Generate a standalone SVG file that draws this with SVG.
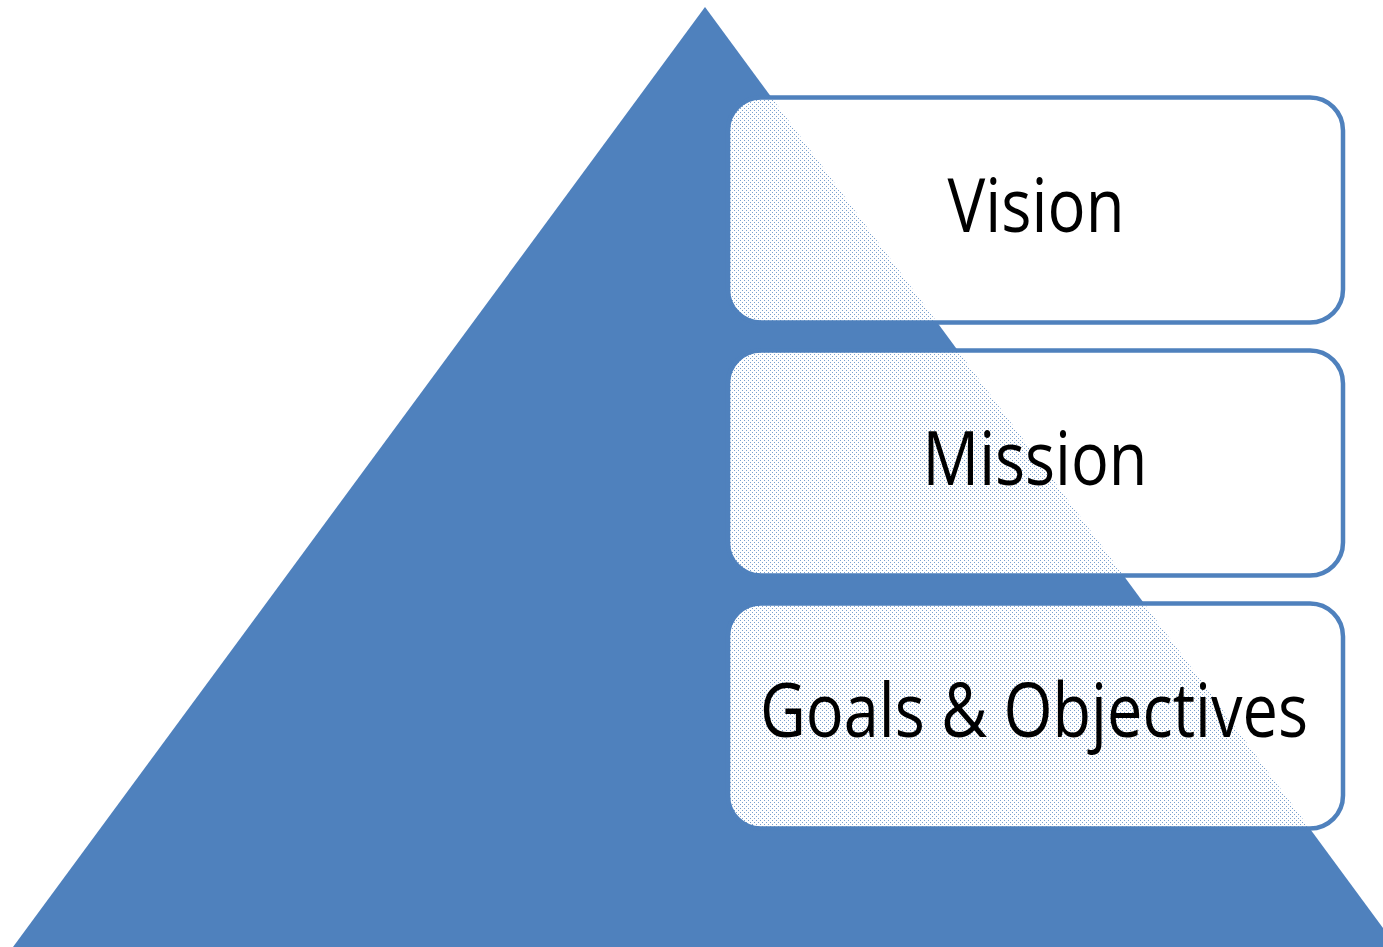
<svg xmlns="http://www.w3.org/2000/svg" width="1383" height="947" viewBox="0 0 1383 947">
  <style>
    .box { fill: #ffffff; }
    .dots { fill: url(#dotPat); }
    .edge { fill: none; stroke: #4f81bd; stroke-width: 4.5; }
    .label { font-family: "Open Sans", "Liberation Sans", sans-serif; font-size: 75px; fill: #000000; text-anchor: middle; }
  </style>
  <defs>
    <pattern id="dotPat" x="0" y="0" width="4" height="4" patternUnits="userSpaceOnUse">
      <rect x="0" y="0" width="1" height="1" fill="#4f81bd" opacity="0.75"/>
      <rect x="2" y="2" width="1" height="1" fill="#4f81bd" opacity="0.75"/>
    </pattern>
    <clipPath id="triClip">
      <polygon points="705,7 13,947 1397,947"/>
    </clipPath>
  </defs>
  <rect width="1383" height="947" fill="#ffffff"/>
  <g id="pyramid">
    <polygon points="705,7 13,947 1397,947" fill="#4f81bd"/>
  </g>
  <g id="connectors"></g>
  <g id="vision">
    <rect class="box" x="728" y="97.5" width="615" height="225" rx="33"/>
    <rect class="dots" x="728" y="97.5" width="615" height="225" rx="33" clip-path="url(#triClip)"/>
    <rect class="edge" x="728" y="97.5" width="615" height="225" rx="33"/>
    <text class="label" x="1036" y="232" textLength="177" lengthAdjust="spacingAndGlyphs">Vision</text>
  </g>
  <g id="mission">
    <rect class="box" x="728" y="350.5" width="615" height="225" rx="33"/>
    <rect class="dots" x="728" y="350.5" width="615" height="225" rx="33" clip-path="url(#triClip)"/>
    <rect class="edge" x="728" y="350.5" width="615" height="225" rx="33"/>
    <text class="label" x="1035" y="485" textLength="225" lengthAdjust="spacingAndGlyphs">Mission</text>
  </g>
  <g id="goals">
    <rect class="box" x="728" y="603.5" width="615" height="225" rx="33"/>
    <rect class="dots" x="728" y="603.5" width="615" height="225" rx="33" clip-path="url(#triClip)"/>
    <rect class="edge" x="728" y="603.5" width="615" height="225" rx="33"/>
    <text class="label" x="1034" y="737" textLength="548" lengthAdjust="spacingAndGlyphs">Goals &amp; Objectives</text>
  </g>
</svg>
